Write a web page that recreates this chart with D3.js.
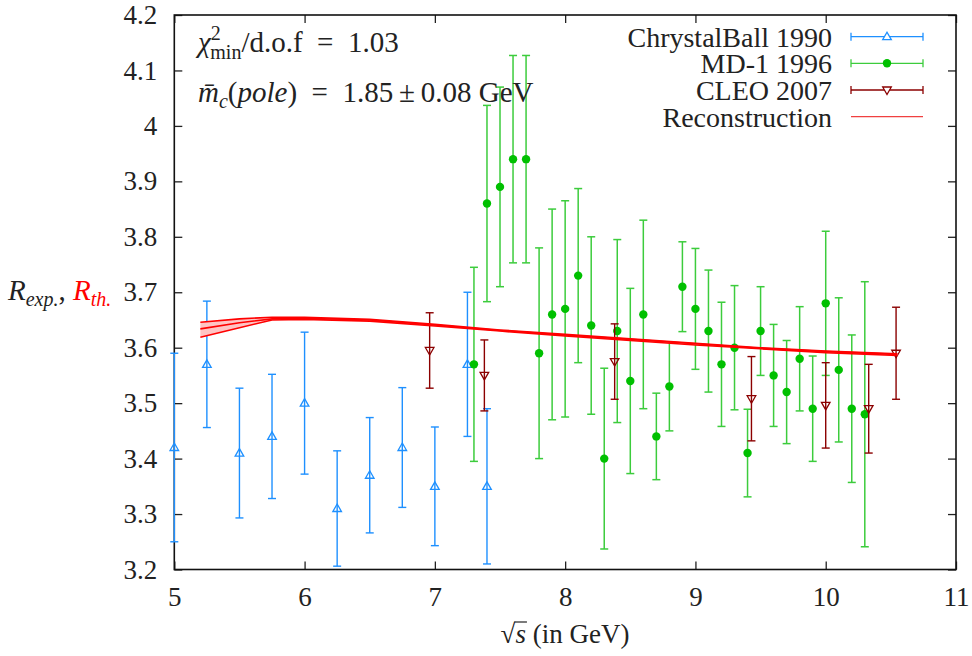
<!DOCTYPE html>
<html><head><meta charset="utf-8">
<script src="https://cdn.jsdelivr.net/npm/d3@7"></script>
<style>
body{margin:0;background:#fff;}
svg text{font-family:"Liberation Serif","Tinos","Times New Roman","Nimbus Roman","DejaVu Serif","Noto Serif",serif;}
</style></head>
<body><svg id="c" width="972" height="656"></svg>
<script>
// ChrystalBall 1990
const cbX   = [5.0, 5.25, 5.5, 5.75, 6.0, 6.25, 6.5, 6.75, 7.0, 7.25, 7.4];
const cbY   = [3.42, 3.57, 3.41, 3.44, 3.50, 3.31, 3.37, 3.42, 3.35, 3.57, 3.35];
const cbErr = [0.17, 0.114, 0.117, 0.112, 0.128, 0.104, 0.104, 0.108, 0.107, 0.13, 0.14];
// MD-1 1996
const mdX   = [7.3,7.4,7.5,7.6,7.7,7.8,7.9,8.0,8.1,8.2,8.3,8.4,8.5,8.6,8.7,8.8,8.9,9.0,9.1,9.2,9.3,9.4,9.5,9.6,9.7,9.8,9.9,10.0,10.1,10.2,10.3];
const mdY   = [3.57,3.86,3.89,3.94,3.94,3.59,3.66,3.67,3.73,3.64,3.40,3.63,3.54,3.66,3.44,3.53,3.71,3.67,3.63,3.57,3.60,3.41,3.63,3.55,3.52,3.58,3.49,3.68,3.56,3.49,3.48];
const mdErr = [0.175,0.177,0.18,0.187,0.187,0.19,0.19,0.195,0.157,0.16,0.163,0.165,0.167,0.17,0.078,0.08,0.081,0.109,0.11,0.112,0.112,0.079,0.08,0.092,0.093,0.094,0.095,0.13,0.13,0.133,0.239];
// CLEO 2007
const cleoX   = [6.96, 7.38, 8.38, 9.43, 10.0, 10.33, 10.54];
const cleoY   = [3.595, 3.55, 3.575, 3.508, 3.496, 3.49, 3.59];
const cleoErr = [0.068, 0.064, 0.068, 0.076, 0.077, 0.08, 0.083];
// Reconstruction band
const recoX     = [5.2, 5.5, 5.75, 6.0, 6.5, 7.0, 7.5, 8.0, 8.5, 9.0, 9.5, 10.0, 10.55];
const recoUpper = [3.646, 3.652, 3.655, 3.655, 3.651, 3.642, 3.632, 3.624, 3.616, 3.608, 3.600, 3.594, 3.589];
const recoMid   = [3.634, 3.645, 3.652, 3.653, 3.650, 3.641, 3.631, 3.623, 3.615, 3.607, 3.599, 3.593, 3.588];
const recoLower = [3.619, 3.636, 3.650, 3.651, 3.648, 3.639, 3.630, 3.621, 3.613, 3.605, 3.598, 3.591, 3.586];
// ticks
const xTicks = [5,6,7,8,9,10,11];
const yTicks = [3.2,3.3,3.4,3.5,3.6,3.7,3.8,3.9,4.0,4.1,4.2];
const legendLabels = ["ChrystalBall 1990","MD-1 1996","CLEO 2007","Reconstruction"];

const svg = d3.select("#c");
const L=174.3, R=956, T=15, B=569.5;
const x = d3.scaleLinear().domain([5,11]).range([L,R]);
const y = d3.scaleLinear().domain([3.2,4.2]).range([B,T]);
const FS = 27, FL = 28, FA = 29, FSS = 20;
const BLUE="#1e90ff", GREEN="#00c000", GBAR="#3ccc3c", BROWN="#8b0000", RED="#ff0000";

// axes
const fmt = d => String(+d.toFixed(1));
const gx = svg.append("g").attr("transform",`translate(0,${B})`)
  .call(d3.axisBottom(x).tickValues(xTicks).tickFormat(fmt).tickSizeInner(-8).tickSizeOuter(0).tickPadding(17));
const gxt = svg.append("g").attr("transform",`translate(0,${T})`)
  .call(d3.axisTop(x).tickValues(xTicks).tickFormat("").tickSizeInner(-8).tickSizeOuter(0));
const gy = svg.append("g").attr("transform",`translate(${L},0)`)
  .call(d3.axisLeft(y).tickValues(yTicks).tickFormat(fmt).tickSizeInner(-8).tickSizeOuter(0).tickPadding(17));
const gyr = svg.append("g").attr("transform",`translate(${R},0)`)
  .call(d3.axisRight(y).tickValues(yTicks).tickFormat("").tickSizeInner(-8).tickSizeOuter(0));
[gx,gxt,gy,gyr].forEach(g=>{
  g.attr("font-family",null).attr("font-size",null);
  g.select(".domain").remove();
  g.selectAll(".tick line").attr("stroke","#222").attr("stroke-width",1.3);
  g.selectAll(".tick text").attr("font-size",FS).attr("fill","#222");
});
svg.append("rect").attr("x",L).attr("y",T).attr("width",R-L).attr("height",B-T)
  .attr("fill","none").attr("stroke","#111").attr("stroke-width",1.6);

// error bars helper
function errbars(xs, ys, es, color, w){
  const g = svg.append("g").attr("stroke",color).attr("stroke-width",w).attr("fill","none");
  xs.forEach((xv,i)=>{
    const px=x(xv), y1=y(ys[i]+es[i]), y2=y(ys[i]-es[i]);
    g.append("line").attr("x1",px).attr("x2",px).attr("y1",y1).attr("y2",y2);
    g.append("line").attr("x1",px-4).attr("x2",px+4).attr("y1",y1).attr("y2",y1);
    g.append("line").attr("x1",px-4).attr("x2",px+4).attr("y1",y2).attr("y2",y2);
  });
}
function triUp(px,py){ return `M${px-4.3},${py+3} L${px+4.3},${py+3} L${px},${py-4.5} Z`; }
function triDown(px,py){ return `M${px-4.3},${py-3} L${px+4.3},${py-3} L${px},${py+4.5} Z`; }

// ChrystalBall
errbars(cbX,cbY,cbErr,BLUE,1.4);
svg.append("g").selectAll("path").data(cbX).join("path")
  .attr("d",(d,i)=>triUp(x(d),y(cbY[i]))).attr("fill","none").attr("stroke",BLUE).attr("stroke-width",1.3);
// MD-1
errbars(mdX,mdY,mdErr,GBAR,1.5);
svg.append("g").selectAll("circle").data(mdX).join("circle")
  .attr("cx",d=>x(d)).attr("cy",(d,i)=>y(mdY[i])).attr("r",4.2).attr("fill",GREEN);
// CLEO
errbars(cleoX,cleoY,cleoErr,BROWN,1.4);
svg.append("g").selectAll("path").data(cleoX).join("path")
  .attr("d",(d,i)=>triDown(x(d),y(cleoY[i]))).attr("fill","none").attr("stroke",BROWN).attr("stroke-width",1.3);

// Reconstruction
const band = d3.area().x((d,i)=>x(recoX[i])).y0((d,i)=>y(recoLower[i])).y1((d,i)=>y(recoUpper[i]));
svg.append("path").attr("d",band(recoX)).attr("fill","#ffc4c4").attr("stroke","none");
const mk = arr => d3.line().x((d,i)=>x(recoX[i])).y((d,i)=>y(arr[i]))(recoX);
[recoUpper,recoMid,recoLower].forEach(a=>{
  svg.append("path").attr("d",mk(a)).attr("fill","none").attr("stroke",RED).attr("stroke-width",1.6);
});

// legend
const legY=[36.7,63.3,90,116.7];
const lx1=851, lx2=923, lxm=887, ltx=832;
const lcols=[BLUE,GBAR,BROWN,"#f04040"];
legendLabels.forEach((t,i)=>{
  svg.append("text").attr("x",ltx).attr("y",legY[i]).attr("dy","0.36em").attr("text-anchor","end")
    .attr("font-size",FL).attr("fill","#222").text(t);
  const g=svg.append("g").attr("stroke",lcols[i]).attr("fill","none").attr("stroke-width",1.3);
  g.append("line").attr("x1",lx1).attr("x2",lx2).attr("y1",legY[i]).attr("y2",legY[i]);
  if(i<3){
    g.append("line").attr("x1",lx1).attr("x2",lx1).attr("y1",legY[i]-4).attr("y2",legY[i]+4);
    g.append("line").attr("x1",lx2).attr("x2",lx2).attr("y1",legY[i]-4).attr("y2",legY[i]+4);
  }
  if(i===0) g.append("path").attr("d",triUp(lxm,legY[i])).attr("fill","#fff");
  if(i===1) svg.append("circle").attr("cx",lxm).attr("cy",legY[i]).attr("r",4.2).attr("fill",GREEN);
  if(i===2) g.append("path").attr("d",triDown(lxm,legY[i])).attr("fill","#fff");
});

// annotations
const t1 = svg.append("text").attr("x",198).attr("y",52).attr("font-size",FA).attr("fill","#222");
t1.append("tspan").attr("font-style","italic").text("χ");
t1.append("tspan").attr("font-size",FSS).attr("dy",-12).text("2");
t1.append("tspan").attr("font-size",FSS).attr("dx",-10.5).attr("dy",19).text("min");
t1.append("tspan").attr("dy",-7).text("/d.o.f\u2002=\u20021.03");

const t2 = svg.append("text").attr("x",198).attr("y",102).attr("font-size",FA).attr("fill","#222");
t2.append("tspan").attr("font-style","italic").text("m\u0304");
t2.append("tspan").attr("font-style","italic").attr("font-size",FSS).attr("dy",6).text("c");
t2.append("tspan").attr("dy",-6).text("(");
t2.append("tspan").attr("font-style","italic").text("pole");
t2.append("tspan").text(")\u2002=\u20021.85\u2009±\u20090.08 GeV");

// y label
const yl = svg.append("text").attr("x",8).attr("y",300).attr("font-size",FA).attr("fill","#222");
yl.append("tspan").attr("font-style","italic").text("R");
yl.append("tspan").attr("font-style","italic").attr("font-size",FSS).attr("dy",6).text("exp.");
yl.append("tspan").attr("dy",-6).text(", ");
yl.append("tspan").attr("font-style","italic").attr("fill",RED).text("R");
yl.append("tspan").attr("font-style","italic").attr("fill",RED).attr("font-size",FSS).attr("dy",6).text("th.");

// x label
const xl = svg.append("text").attr("x",565).attr("y",643).attr("text-anchor","middle").attr("font-size",FS).attr("fill","#222");
xl.append("tspan").text("√");
xl.append("tspan").attr("font-style","italic").text("s");
xl.append("tspan").text(" (in GeV)");
const node = xl.node();
const e0 = node.getExtentOfChar(0), e1 = node.getExtentOfChar(1);
svg.append("line").attr("x1",e0.x+e0.width-1).attr("x2",e1.x+e1.width+1)
  .attr("y1",e0.y+3).attr("y2",e0.y+3).attr("stroke","#222").attr("stroke-width",1.2);
</script></body></html>
